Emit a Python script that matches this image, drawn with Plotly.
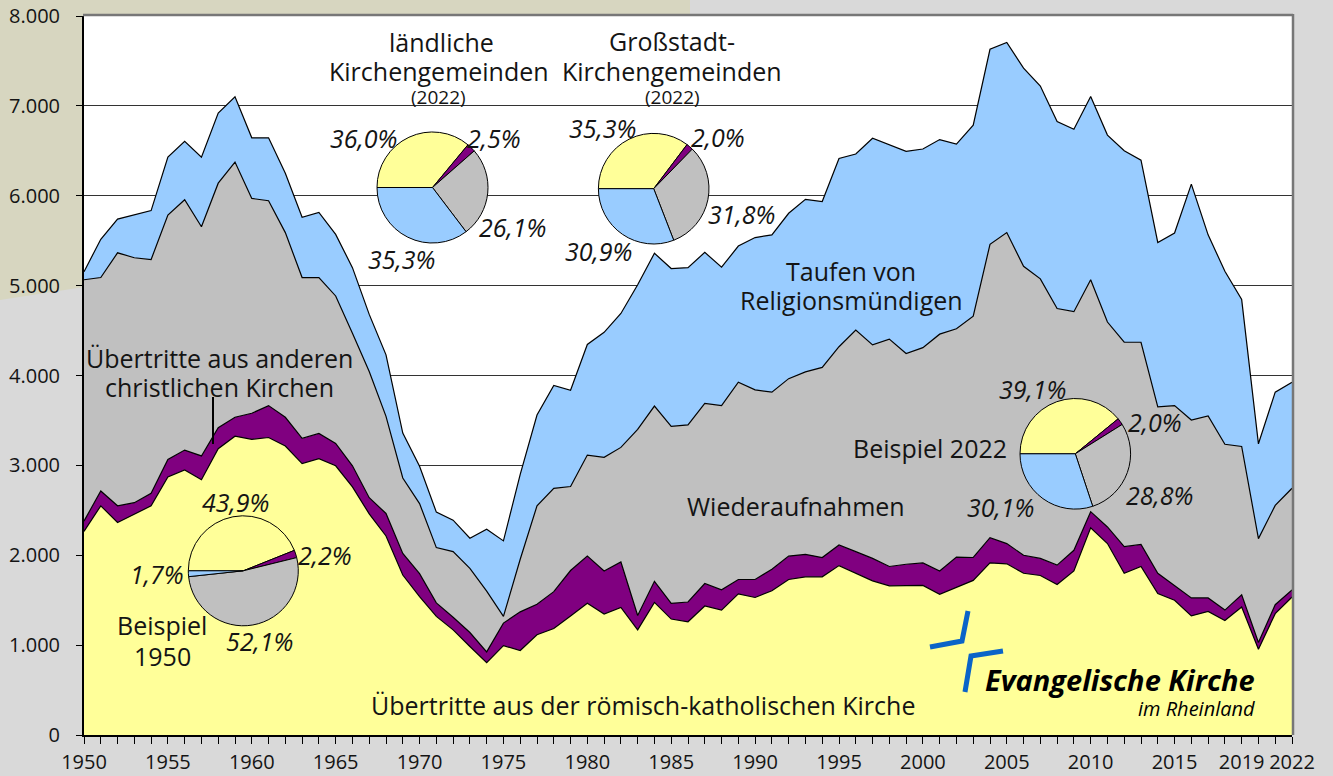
import plotly.graph_objects as go

# ---------------- data ----------------
jahre = list(range(1950, 2023))

katholisch = [2265, 2550, 2365, 2460, 2550, 2870, 2950, 2840, 3185, 3325,
              3290, 3310, 3215, 3020, 3075, 2995, 2760, 2460, 2215, 1780,
              1540, 1320, 1170, 985, 805, 995, 940, 1115, 1185, 1325,
              1465, 1345, 1420, 1170, 1475, 1290, 1260, 1435, 1390, 1570,
              1530, 1605, 1730, 1760, 1760, 1885, 1800, 1715, 1660, 1660,
              1665, 1565, 1645, 1720, 1915, 1905, 1800, 1775, 1675, 1825,
              2305, 2130, 1800, 1875, 1575, 1500, 1325, 1375, 1275, 1425,
              955, 1350, 1535]

andere = [115, 165, 185, 125, 140, 195, 220, 265, 235, 210,
          290, 355, 320, 280, 280, 250, 235, 180, 250, 240,
          255, 150, 140, 155, 120, 250, 430, 340, 410, 505,
          525, 480, 505, 160, 235, 175, 220, 250, 225, 160,
          200, 240, 260, 250, 215, 230, 240, 250, 215, 240,
          250, 260, 335, 255, 280, 225, 200, 190, 215, 230,
          180, 185, 295, 245, 225, 160, 200, 150, 115, 135,
          75, 100, 80]

wiederaufnahmen = [2685, 2375, 2815, 2725, 2600, 2720, 2785, 2550, 2720, 2840,
                   2390, 2280, 2055, 1790, 1735, 1640, 1475, 1405, 1080, 840,
                   780, 615, 730, 715, 675, 75, 585, 1095, 1150, 935,
                   1125, 1265, 1275, 2070, 1950, 1970, 1970, 2005, 2050, 2195,
                   2110, 1970, 1975, 2030, 2115, 2205, 2465, 2375, 2530, 2345,
                   2395, 2635, 2540, 2685, 3265, 3460, 3215, 3110, 2855, 2655,
                   2580, 2280, 2275, 2250, 1850, 2005, 1980, 2025, 1845, 1650,
                   1155, 1105, 1130]

taufen = [90, 425, 375, 475, 545, 645, 650, 775, 780, 725,
          675, 700, 660, 670, 725, 685, 730, 635, 685, 500,
          415, 395, 350, 335, 690, 840, 945, 1010, 1145, 1070,
          1230, 1390, 1490, 1610, 1700, 1755, 1750, 1680, 1540, 1515,
          1695, 1750, 1840, 1920, 1845, 2095, 1960, 2300, 2160, 2250,
          2210, 2165, 2055, 2125, 2170, 2115, 2205, 2145, 2080, 2030,
          2040, 2080, 2130, 2025, 1830, 1920, 2625, 2015, 1925, 1635,
          1055, 1260, 1180]

pie_labels = ["Übertritte aus der römisch-katholischen Kirche",
              "Übertritte aus anderen christlichen Kirchen",
              "Wiederaufnahmen", "Taufen von Religionsmündigen"]
anteil_1950 = [43.9, 2.2, 52.1, 1.7]
anteil_laendlich = [36.0, 2.5, 26.1, 35.3]
anteil_grossstadt = [35.3, 2.0, 31.8, 30.9]
anteil_2022 = [39.1, 2.0, 28.8, 30.1]

x_tickwerte = [1950, 1955, 1960, 1965, 1970, 1975, 1980, 1985, 1990, 1995,
               2000, 2005, 2010, 2015, 2019, 2022]
y_tickwerte = [0, 1000, 2000, 3000, 4000, 5000, 6000, 7000, 8000]

# ---------------- styling ----------------
W, H = 1333, 776
L, R, T, B = 84, 41, 16, 41
PW, PH = W - L - R, H - T - B
FONT = "Open Sans, Noto Sans, DejaVu Sans, sans-serif"
TXT = "#141414"

COL_KATH = "#ffff99"
COL_ANDERE = "#800080"
COL_WIEDER = "#c0c0c0"
COL_TAUFE = "#99ccff"
pie_colors = [COL_KATH, COL_ANDERE, COL_WIEDER, COL_TAUFE]


def px(x):
    return (x - L) / PW


def py(y):
    return (H - B - y) / PH


fig = go.Figure()

for name, vals, col in [("Übertritte aus der römisch-katholischen Kirche", katholisch, COL_KATH),
                        ("Übertritte aus anderen christlichen Kirchen", andere, COL_ANDERE),
                        ("Wiederaufnahmen", wiederaufnahmen, COL_WIEDER),
                        ("Taufen von Religionsmündigen", taufen, COL_TAUFE)]:
    fig.add_trace(go.Scatter(x=jahre, y=vals, name=name, mode="lines",
                             stackgroup="one", fillcolor=col,
                             line=dict(color="black", width=1.2),
                             showlegend=False))


def add_pie(vals, cx, cy, r):
    fig.add_trace(go.Pie(values=vals, labels=pie_labels, sort=False,
                         direction="clockwise", rotation=270,
                         textinfo="none", hoverinfo="label+percent",
                         marker=dict(colors=pie_colors,
                                     line=dict(color="black", width=1)),
                         domain=dict(x=[px(cx - r), px(cx + r)],
                                     y=[py(cy + r), py(cy - r)]),
                         showlegend=False))


add_pie(anteil_laendlich, 432.5, 187.5, 55.5)
add_pie(anteil_grossstadt, 653.7, 188.7, 55.3)
add_pie(anteil_2022, 1075.3, 453.8, 55.3)
add_pie(anteil_1950, 243.3, 570.8, 55.0)

annotations = []


def ann(text, x, y, size=25, xanchor="center", color=TXT):
    annotations.append(dict(text=text, x=px(x), y=py(y), xref="paper", yref="paper",
                            showarrow=False, xanchor=xanchor, yanchor="middle",
                            font=dict(family=FONT, size=size, color=color)))


# series labels
ann("Taufen von", 851, 271)
ann("Religionsmündigen", 851, 300)
ann("Wiederaufnahmen", 796, 506)
ann("Übertritte aus der römisch-katholischen Kirche", 643, 705)
ann("Übertritte aus anderen", 219, 358)
ann("christlichen Kirchen", 219, 387)
ann("Beispiel 2022", 1009, 448, xanchor="right")
ann("Beispiel", 162, 625)
ann("1950", 162, 656)

# pie titles
ann("ländliche", 441, 42)
ann("Kirchengemeinden", 439, 71)
ann("(2022)", 439, 97, size=19)
ann("Großstadt-", 672, 41)
ann("Kirchengemeinden", 672, 71)
ann("(2022)", 672, 97, size=19)

# percentages
for t, x, y in [("36,0%", 363, 138), ("2,5%", 494, 138), ("26,1%", 512, 227), ("35,3%", 401, 259),
                ("35,3%", 602, 128), ("2,0%", 718, 137), ("31,8%", 742, 214), ("30,9%", 598, 251),
                ("39,1%", 1032, 389), ("2,0%", 1155, 422), ("28,8%", 1159, 495), ("30,1%", 1000, 507),
                ("43,9%", 235, 502), ("2,2%", 325, 555), ("1,7%", 157, 574), ("52,1%", 259, 641)]:
    ann("<i>" + t + "</i>", x, y, size=25)

# logo text
ann("<b><i>Evangelische Kirche</i></b>", 1257, 679, size=29, xanchor="right", color="#000")
ann("<i>im Rheinland</i>", 1257, 708, size=20, xanchor="right", color="#000")

shapes = []


def path(points):
    s = "M " + " L ".join(f"{px(a):.5f},{py(b):.5f}" for a, b in points)
    return s


# tan slide background in the upper-left corner (outside plot area)
shapes.append(dict(type="path", xref="paper", yref="paper", layer="below",
                   path=path([(0, 0), (690, 0), (690, 15), (84, 15), (84, 287), (0, 300)]) + " Z",
                   fillcolor="#d7d6c0", line=dict(width=0)))
# plot frame (top/right, gray)
shapes.append(dict(type="line", xref="paper", yref="paper", x0=px(83), x1=px(1293), y0=py(15), y1=py(15),
                   line=dict(color="#777777", width=2.5)))
shapes.append(dict(type="line", xref="paper", yref="paper", x0=px(1293), x1=px(1293), y0=py(14), y1=py(735),
                   line=dict(color="#777777", width=2.5)))
# pointer line for "Übertritte aus anderen christlichen Kirchen"
shapes.append(dict(type="line", xref="paper", yref="paper", x0=px(213), x1=px(213), y0=py(397), y1=py(444),
                   line=dict(color="black", width=2)))
# logo strokes
for pts in [[(930, 647), (962, 641), (968, 611)], [(1003, 651), (971, 656), (965, 692)]]:
    shapes.append(dict(type="path", xref="paper", yref="paper", path=path(pts),
                       line=dict(color="#0a64c8", width=5)))

fig.update_layout(
    width=W, height=H,
    margin=dict(l=L, r=R, t=T, b=B, pad=0, autoexpand=False),
    paper_bgcolor="#d9d9d9",
    plot_bgcolor="white",
    separators=",.",
    font=dict(family=FONT, size=20, color=TXT),
    annotations=annotations,
    shapes=shapes,
    showlegend=False,
    xaxis=dict(range=[1950, 2022], tickmode="array", tickvals=x_tickwerte,
               ticks="outside", ticklen=7, tickwidth=1.2, tickcolor="black",
               showline=True, linecolor="black", linewidth=2,
               showgrid=False, zeroline=False, automargin=False,
               tickfont=dict(size=20, color=TXT),
               minor=dict(dtick=1, tick0=1950, ticks="outside", ticklen=7,
                          tickwidth=1.2, tickcolor="black", showgrid=False),
               ticklabelstandoff=1),
    yaxis=dict(range=[0, 8000], tickmode="array", tickvals=y_tickwerte,
               tickformat=",d", ticks="outside", ticklen=6, tickwidth=1.2,
               tickcolor="black", showline=True, linecolor="black", linewidth=2,
               showgrid=True, gridcolor="#333333", gridwidth=1.3, zeroline=False,
               automargin=False,
               tickfont=dict(size=20, color=TXT), ticklabelstandoff=12),
)

fig.write_html("out.html", config={"displayModeBar": False},
               post_script="document.body.style.margin='0';")
